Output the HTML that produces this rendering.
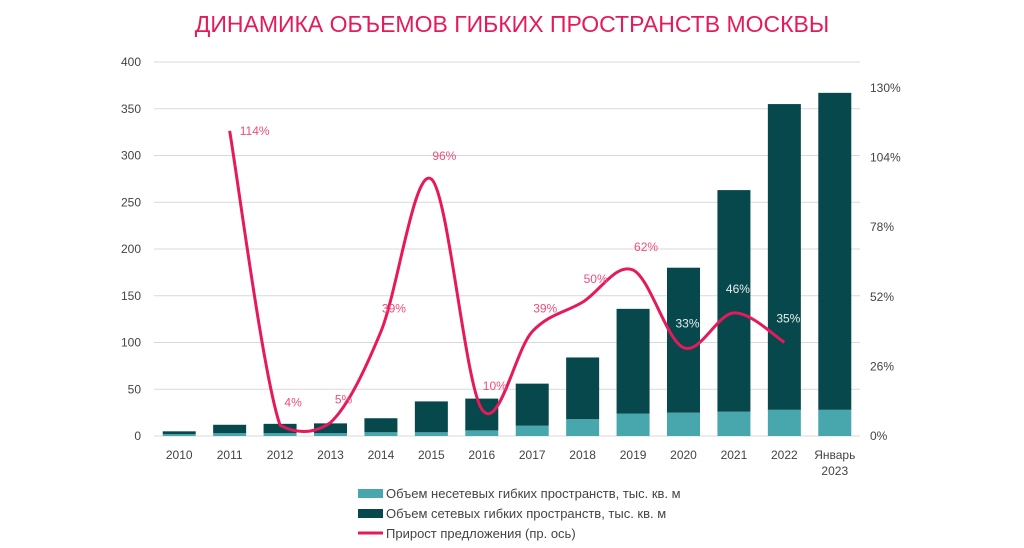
<!DOCTYPE html>
<html><head><meta charset="utf-8"><style>
body{margin:0;background:#fff;}
svg{display:block;font-family:"Liberation Sans","Noto Sans CJK SC",sans-serif;}
</style></head><body>
<svg id="c" width="1024" height="548">
<text x="512" y="32" text-anchor="middle" font-size="23" fill="#e6195a">ДИНАМИКА ОБЪЕМОВ ГИБКИХ ПРОСТРАНСТВ МОСКВЫ</text>
<g id="grid"></g><g id="bars"></g><g id="line"></g><g id="labels"></g><g id="axes"></g>
<g font-size="13" fill="#444">
<rect x="358" y="489" width="25" height="9" fill="#47a7ad"/>
<text x="386" y="498">Объем несетевых гибких пространств, тыс. кв. м</text>
<rect x="358" y="509" width="25" height="9" fill="#07484c"/>
<text x="386" y="518">Объем сетевых гибких пространств, тыс. кв. м</text>
<line x1="358" y1="533" x2="383" y2="533" stroke="#e6195a" stroke-width="3"/>
<text x="386" y="538">Прирост предложения (пр. ось)</text>
</g>
</svg>
<script>
const categories=["2010","2011","2012","2013","2014","2015","2016","2017","2018","2019","2020","2021","2022","Январь 2023"];
const nonNetwork=[2,3,3,3,4,4,6,11,18,24,25,26,28,28];
const network=[3,9,10,10.5,15,33,34,45,66,112,155,237,327,339];
const growth=[null,114,4,5,39,96,10,39,50,62,33,46,35,null];
const leftTicks=[0,50,100,150,200,250,300,350,400];
const rightTicks=[0,26,52,78,104,130];

const NS="http://www.w3.org/2000/svg";
const X0=154,X1=860,step=(X1-X0)/categories.length,bw=33;
const xc=i=>X0+step*(i+0.5);
const yL=v=>436-v*(374/400);
const yR=v=>436-v*(348/130);
function mk(tag,attrs,parent){const e=document.createElementNS(NS,tag);for(const k in attrs)e.setAttribute(k,attrs[k]);document.getElementById(parent).appendChild(e);return e;}
leftTicks.forEach(t=>{
 const l=mk('line',{x1:X0,x2:X1,y1:yL(t),y2:yL(t),stroke:'#d9d9d9','stroke-width':1},'grid');
 
 
 const tx=mk('text',{x:141,y:yL(t)+4,'text-anchor':'end','font-size':12,fill:'#444'},'axes');tx.textContent=t;
 
 
});
rightTicks.forEach(t=>{
 const tx=mk('text',{x:870,y:yR(t)+4,'font-size':12,fill:'#444'},'axes');tx.textContent=t+'%';
 
 
});
categories.forEach((c,i)=>{
 const x=xc(i)-bw/2;
 const a=mk('rect',{x:x,y:yL(nonNetwork[i]),width:bw,height:yL(0)-yL(nonNetwork[i]),fill:'#47a7ad'},'bars');
 
 
 const tot=nonNetwork[i]+network[i];
 const b=mk('rect',{x:x,y:yL(tot),width:bw,height:yL(nonNetwork[i])-yL(tot),fill:'#07484c'},'bars');
 
 
 const parts=c.split(' ');
 parts.forEach((p,k)=>{
  const tx=mk('text',{x:xc(i),y:459+k*16,'text-anchor':'middle','font-size':12,fill:'#444'},'axes');tx.textContent=p;
  
  
 });
});
const pts=[];growth.forEach((g,i)=>{if(g!==null)pts.push([xc(i),yR(g),g,i]);});
const yMax=yR(0)-2;
let d='M'+pts[0][0]+','+pts[0][1];
for(let i=0;i<pts.length-1;i++){
 const p0=pts[Math.max(0,i-1)],p1=pts[i],p2=pts[i+1],p3=pts[Math.min(pts.length-1,i+2)];
 const c1x=p1[0]+(p2[0]-p0[0])/6,c1y=Math.min(yMax,p1[1]+(p2[1]-p0[1])/6);
 const c2x=p2[0]-(p3[0]-p1[0])/6,c2y=Math.min(yMax,p2[1]-(p3[1]-p1[1])/6);
 d+=' C'+c1x+','+c1y+' '+c2x+','+c2y+' '+p2[0]+','+p2[1];
}
const ln=mk('path',{d:d,fill:'none',stroke:'#e6195a','stroke-width':3},'line');


pts.forEach((p,k)=>{
 const white=p[3]>=10;
 const first=k===0;
 const tx=mk('text',{x:p[0]+(first?25:(white?4:13)),y:p[1]+(first?4:(white?-20:-19)),'text-anchor':'middle','font-size':12,fill:white?'#e8eeee':'#ee4d7f'},'labels');
 tx.textContent=p[2]+'%';
 
 
});
</script>
</body></html>
